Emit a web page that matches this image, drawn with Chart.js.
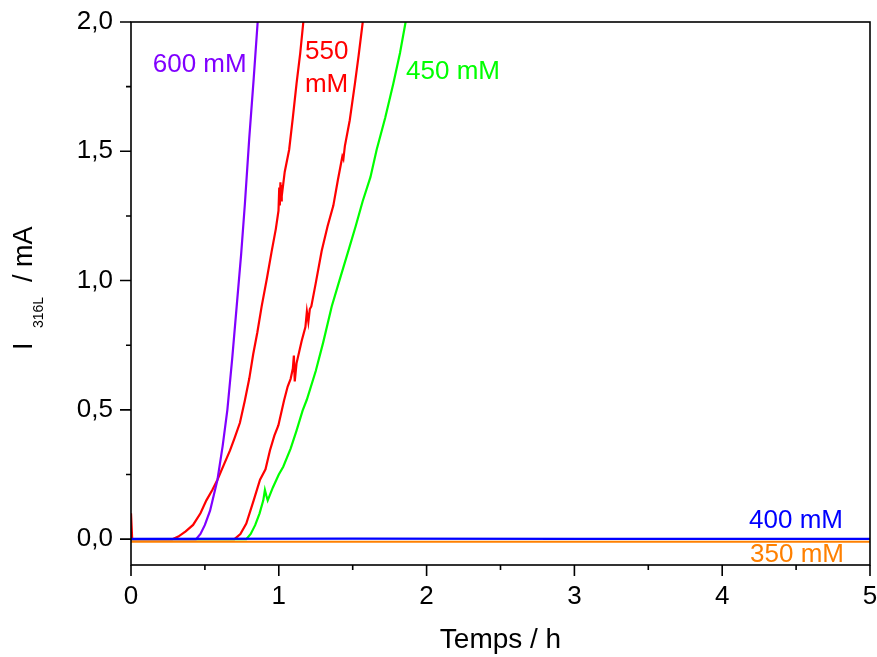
<!DOCTYPE html>
<html>
<head>
<meta charset="utf-8">
<title>I316L vs Temps</title>
<script src="https://cdn.jsdelivr.net/npm/chart.js@4.4.1/dist/chart.umd.min.js"></script>
<style>
  html, body { margin: 0; padding: 0; background: #fff; }
  #chart { display: block; }
</style>
</head>
<body>
<canvas id="chart" width="877" height="657"></canvas>
<script>
// values: time in h, current in mA
const t600 = [0, 0.44, 0.47, 0.50, 0.535, 0.56, 0.585, 0.62, 0.652, 0.685, 0.715, 0.745, 0.771, 0.80, 0.83, 0.857];
const i600 = [0, 0, 0.02, 0.055, 0.11, 0.17, 0.23, 0.36, 0.50, 0.70, 0.90, 1.10, 1.30, 1.55, 1.78, 2.0];

const t550a = [0, 0.004, 0.008, 0.28, 0.32, 0.37, 0.42, 0.47, 0.51, 0.55, 0.585, 0.63, 0.67, 0.70, 0.737, 0.77, 0.80, 0.827, 0.855, 0.884, 0.92, 0.952, 0.98, 0.998, 1.003, 1.007, 1.011, 1.015, 1.02, 1.025, 1.04, 1.07, 1.095, 1.12, 1.145, 1.166];
const i550a = [0.1, 0.1, 0, 0, 0.01, 0.03, 0.055, 0.10, 0.15, 0.19, 0.23, 0.29, 0.343, 0.39, 0.45, 0.535, 0.62, 0.716, 0.80, 0.90, 1.01, 1.114, 1.20, 1.27, 1.36, 1.29, 1.38, 1.31, 1.37, 1.35, 1.42, 1.506, 1.63, 1.762, 1.88, 2.0];

const t550b = [0, 0.70, 0.74, 0.78, 0.83, 0.873, 0.91, 0.94, 0.97, 0.997, 1.035, 1.06, 1.08, 1.095, 1.102, 1.108, 1.12, 1.155, 1.18, 1.19, 1.20, 1.21, 1.22, 1.25, 1.29, 1.33, 1.369, 1.40, 1.43, 1.437, 1.447, 1.48, 1.515, 1.54, 1.568];
const i550b = [0, 0, 0.02, 0.06, 0.15, 0.23, 0.27, 0.343, 0.40, 0.44, 0.535, 0.59, 0.62, 0.66, 0.71, 0.61, 0.68, 0.767, 0.82, 0.88, 0.84, 0.89, 0.90, 0.99, 1.114, 1.21, 1.29, 1.39, 1.48, 1.47, 1.52, 1.62, 1.762, 1.87, 2.0];

const t450 = [0, 0.78, 0.81, 0.84, 0.87, 0.895, 0.906, 0.915, 0.925, 0.96, 1.0, 1.03, 1.08, 1.12, 1.161, 1.19, 1.25, 1.30, 1.358, 1.41, 1.47, 1.52, 1.567, 1.62, 1.662, 1.72, 1.775, 1.82, 1.858];
const i450 = [0, 0, 0.02, 0.054, 0.10, 0.15, 0.19, 0.17, 0.15, 0.20, 0.25, 0.28, 0.35, 0.42, 0.497, 0.54, 0.65, 0.76, 0.90, 1.0, 1.114, 1.21, 1.306, 1.40, 1.506, 1.63, 1.762, 1.88, 2.0];

const t400 = [0, 1.5, 3.0, 5.0];
const i400 = [0.001, 0.002, 0.001, 0.001];

const t350 = [0, 5.0];
const i350 = [-0.01, -0.01];

const xTicks = [0, 1, 2, 3, 4, 5];
const xMinorTicks = [0.5, 1.5, 2.5, 3.5, 4.5];
const yTicks = [0, 0.5, 1.0, 1.5, 2.0];
const yMinorTicks = [0.25, 0.75, 1.25, 1.75];

const FONT = "'Liberation Sans', Arial, sans-serif";
const colors = {
  c600: "#8000ff",
  c550: "#ff0000",
  c450: "#00ff00",
  c400: "#0000ff",
  c350: "#ff8000"
};

function toPoints(ts, vals) {
  return ts.map((t, i) => ({ x: t, y: vals[i] }));
}

function line(label, ts, vals, color) {
  return {
    label: label,
    data: toPoints(ts, vals),
    borderColor: color,
    backgroundColor: color,
    borderWidth: 2.2,
    pointRadius: 0,
    tension: 0,
    fill: false
  };
}

// text labels in data units
const seriesLabels = [
  { text: "600 mM", color: colors.c600, t: 0.147, v: 1.807, align: "left" },
  { text: "550", color: colors.c550, t: 1.177, v: 1.857, align: "left" },
  { text: "mM", color: colors.c550, t: 1.177, v: 1.730, align: "left" },
  { text: "450 mM", color: colors.c450, t: 1.861, v: 1.780, align: "left" },
  { text: "400 mM", color: colors.c400, t: 4.817, v: 0.042, align: "right" },
  { text: "350 mM", color: colors.c350, t: 4.824, v: -0.089, align: "right" }
];

const frame = {
  id: "frame",
  afterDraw(chart) {
    const ctx = chart.ctx;
    const a = chart.chartArea;
    const x = chart.scales.x;
    const y = chart.scales.y;
    ctx.save();

    // box and tick marks
    ctx.strokeStyle = "#000";
    ctx.lineWidth = 1.6;
    ctx.strokeRect(a.left, a.top, a.right - a.left, a.bottom - a.top);
    ctx.beginPath();
    xTicks.forEach(v => {
      const px = x.getPixelForValue(v);
      ctx.moveTo(px, a.bottom);
      ctx.lineTo(px, a.bottom + 11);
    });
    xMinorTicks.forEach(v => {
      const px = x.getPixelForValue(v);
      ctx.moveTo(px, a.bottom);
      ctx.lineTo(px, a.bottom + 5);
    });
    yTicks.forEach(v => {
      const py = y.getPixelForValue(v);
      ctx.moveTo(a.left, py);
      ctx.lineTo(a.left - 11, py);
    });
    yMinorTicks.forEach(v => {
      const py = y.getPixelForValue(v);
      ctx.moveTo(a.left, py);
      ctx.lineTo(a.left - 5, py);
    });
    ctx.stroke();

    // series names
    ctx.font = "26px " + FONT;
    ctx.textBaseline = "alphabetic";
    seriesLabels.forEach(l => {
      ctx.fillStyle = l.color;
      ctx.textAlign = l.align;
      ctx.fillText(l.text, x.getPixelForValue(l.t), y.getPixelForValue(l.v));
    });

    // x title
    ctx.fillStyle = "#000";
    ctx.textAlign = "center";
    ctx.font = "28px " + FONT;
    ctx.fillText("Temps / h", (a.left + a.right) / 2, 648);

    // y title with subscript
    ctx.translate(32, 0);
    ctx.rotate(-Math.PI / 2);
    ctx.textAlign = "left";
    ctx.font = "27px " + FONT;
    ctx.fillText("I", -350, 0);
    ctx.font = "14px " + FONT;
    ctx.fillText("316L", -328, 11);
    ctx.font = "27px " + FONT;
    ctx.fillText("/ mA", -282, 0);
    ctx.restore();
  }
};

new Chart(document.getElementById("chart"), {
  type: "line",
  data: {
    datasets: [
      line("400 mM", t400, i400, colors.c400),
      line("350 mM", t350, i350, colors.c350),
      line("600 mM", t600, i600, colors.c600),
      line("450 mM", t450, i450, colors.c450),
      line("550 mM", t550b, i550b, colors.c550),
      line("550 mM", t550a, i550a, colors.c550)
    ]
  },
  options: {
    responsive: false,
    animation: false,
    layout: { padding: { top: 22, right: 7, left: 0, bottom: 0 } },
    plugins: {
      legend: { display: false },
      tooltip: { enabled: false },
      title: { display: false }
    },
    scales: {
      x: {
        type: "linear",
        min: 0,
        max: 5,
        grid: { display: false, drawTicks: false },
        border: { display: false },
        afterBuildTicks: s => { s.ticks = xTicks.map(v => ({ value: v })); },
        afterFit: s => { s.height = 92; s.paddingLeft = 0; s.paddingRight = 0; },
        ticks: {
          color: "#000",
          padding: 16,
          maxRotation: 0,
          font: { size: 26, family: FONT },
          callback: v => String(v)
        }
      },
      y: {
        type: "linear",
        min: -0.1,
        max: 2.0,
        grid: { display: false, drawTicks: false },
        border: { display: false },
        afterBuildTicks: s => { s.ticks = yTicks.map(v => ({ value: v })); },
        afterFit: s => { s.width = 131; s.paddingTop = 0; s.paddingBottom = 0; },
        ticks: {
          color: "#000",
          padding: 18,
          font: { size: 26, family: FONT },
          callback: v => v.toFixed(1).replace(".", ",")
        }
      }
    }
  },
  plugins: [frame]
});
</script>
</body>
</html>
